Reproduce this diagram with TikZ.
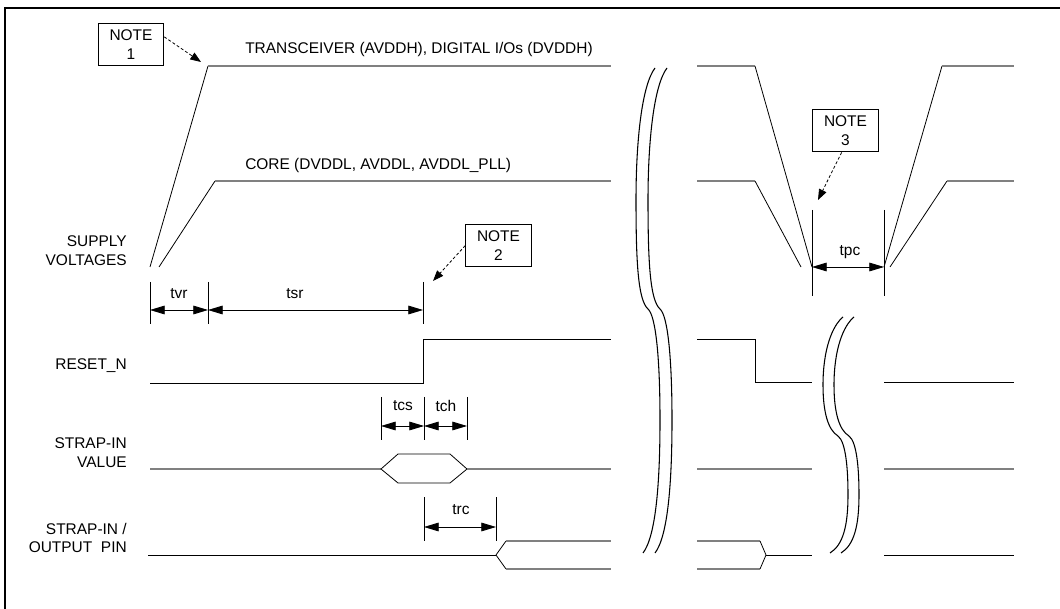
\documentclass[tikz,border=0pt]{standalone}
\usepackage{fontspec}
\setmainfont{Liberation Sans}
\usepackage{tikz}
\usetikzlibrary{arrows.meta}

\begin{document}
\begin{tikzpicture}[x=0.75pt, y=-0.75pt,
  font=\fontsize{11.6}{14.2}\selectfont,
  graywave/.style={draw=black!50, line width=1.1pt},
  edgeline/.style={draw=black, line width=0.6pt},
  tickline/.style={draw=black, line width=0.6pt},
  dim/.style={{Triangle[length=11pt,width=6.5pt]}-{Triangle[length=11pt,width=6.5pt]}, line width=0.6pt},
  notebox/.style={draw, line width=0.8pt, align=center, minimum width=49pt, minimum height=32pt, inner sep=0pt},
  notearrow/.style={dash pattern=on 2.2pt off 1.6pt, -{Triangle[length=8pt,width=6pt]}, line width=0.6pt},
  lbl/.style={anchor=east, align=right, inner sep=0pt},
  brk/.style={line width=0.8pt}]
  \useasboundingbox (0,0) rectangle (1060,609);
  % ---- frame (cut off at right and bottom)
  \draw[line width=0.9pt] (5,609) -- (5,8) -- (1060,8);

  % ---- row labels
  \node[lbl] (supply) at (127,251) {SUPPLY\\VOLTAGES};
  \node[lbl] (reset) at (127,366) {RESET\_N};
  \node[lbl] (strapval) at (127,453) {STRAP-IN\\VALUE};
  \node[lbl] (strapout) at (127,538) {STRAP-IN /\\OUTPUT\ \ PIN};

  % ---- supply rails, power-up
  \node[anchor=west, inner sep=0pt] (rail1) at (245,50) {TRANSCEIVER (AVDDH), DIGITAL I/Os (DVDDH)};
  \node[anchor=west, inner sep=0pt] (rail2) at (245,166) {CORE (DVDDL, AVDDL, AVDDL\_PLL)};
  \draw[edgeline] (150,267) -- (208,66);
  \draw[graywave] (208,66) -- (611,66);
  \draw[edgeline] (159,267) -- (215,181);
  \draw[graywave] (215,181) -- (611,181);

  % ---- RESET_N, strap-in value, strap-in / output pin
  \draw[edgeline] (150,383) -- (423,383) -- (423,339) -- (611,339);
  \draw[graywave] (150,469) -- (381,469);
  \draw[edgeline] (381,469) -- (398,454) -- (450,454) -- (467,469) -- (450,483) -- (398,483) -- cycle;
  \draw[graywave] (467,469) -- (611,469);
  \draw[edgeline] (148,555) -- (496,555);
  \draw[edgeline] (506,541) -- (496,555) -- (506,569);
  \draw[graywave] (506,541) -- (611,541);
  \draw[graywave] (506,569) -- (611,569);

  % ---- power cycle section
  \draw[graywave] (697,66) -- (755,66);
  \draw[edgeline] (755,66) -- (812,267);
  \draw[graywave] (697,181) -- (755,181);
  \draw[edgeline] (755,181) -- (801,267);
  \draw[edgeline] (884,267) -- (942,66);
  \draw[graywave] (942,66) -- (1014,66);
  \draw[edgeline] (890,267) -- (947,181);
  \draw[graywave] (947,181) -- (1014,181);
  \draw[edgeline] (697,339) -- (755,339) -- (755,382) -- (812,382);
  \draw[edgeline] (884,382) -- (1014,382);
  \draw[graywave] (697,469) -- (812,469);
  \draw[graywave] (884,469) -- (1014,469);
  \draw[graywave] (697,541) -- (760,541);
  \draw[graywave] (697,569) -- (760,569);
  \draw[edgeline] (760,541) -- (766,555) -- (760,569);
  \draw[edgeline] (766,555) -- (812,555);
  \draw[edgeline] (884,555) -- (1014,555);

  % ---- time breaks
  \foreach \dx in {0,12} {
    \draw[brk, xshift=\dx*0.75pt] (655,68) .. controls (642,85) and (636,140) .. (636,200)
      .. controls (636,262) and (638,300) .. (648,309)
      .. controls (656,316) and (660,360) .. (660,420)
      .. controls (660,482) and (656,536) .. (643,553);
  }
  \foreach \dx in {0,11} {
    \draw[brk, xshift=\dx*0.75pt] (843,317) .. controls (832,326) and (823,350) .. (823,385)
      .. controls (823,412) and (828,430) .. (838,436)
      .. controls (846,442) and (848,470) .. (848,495)
      .. controls (848,526) and (843,545) .. (830,553);
  }

  % ---- timing marks
  \foreach \x/\ya/\yb in {150/282/324, 208/282/324, 423/282/324,
                          381/397/440, 424/397/440, 467/397/440,
                          424/497/541, 496/497/541, 812/210/296, 884/210/296} {
    \draw[tickline] (\x,\ya) -- (\x,\yb);
  }
  \foreach \n/\x/\y in {a/150/310, b/208/310, c/423/310, d/381/426, e/424/426,
                        f/467/426, g/424/527, h/496/527, i/812/267, j/884/267} {
    \coordinate (d\n) at (\x,\y);
  }
  \draw[dim] (da) -- (db);
  \draw[dim] (db) -- (dc);
  \draw[dim] (dd) -- (de);
  \draw[dim] (de) -- (df);
  \draw[dim] (dg) -- (dh);
  \draw[dim] (di) -- (dj);
  \node (tvr) at (179,294) {tvr};
  \node (tsr) at (295,294) {tsr};
  \node (tcs) at (403,406) {tcs};
  \node (tch) at (446,406) {tch};
  \node (trc) at (461,510) {trc};
  \node (tpc) at (850,252) {tpc};

  % ---- notes
  \node[notebox] (note1) at (131,44.5) {NOTE\\1};
  \node[notebox] (note2) at (498.5,245.5) {NOTE\\2};
  \node[notebox] (note3) at (845.5,130.5) {NOTE\\3};
  \coordinate (n1tip) at (201,62);
  \coordinate (n2tip) at (433,281);
  \coordinate (n3tip) at (818,200);
  \draw[notearrow] (note1.13) -- (n1tip);
  \draw[notearrow] (note2.west) -- (n2tip);
  \draw[notearrow] (note3.-100) -- (n3tip);
\end{tikzpicture}
\end{document}
